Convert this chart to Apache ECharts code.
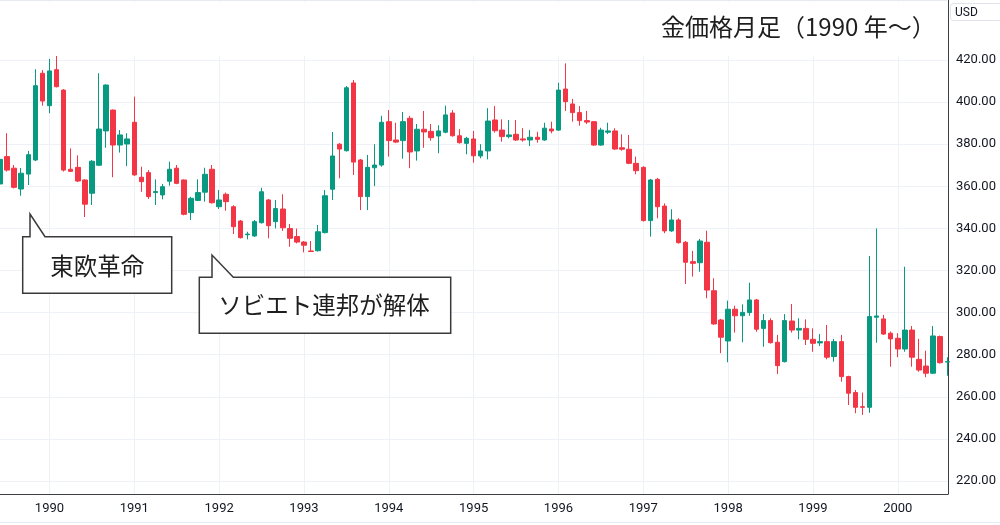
<!DOCTYPE html>
<html>
<head>
<meta charset="utf-8">
<script src="https://cdn.jsdelivr.net/npm/echarts@6/dist/echarts.min.js"></script>
<style>
html,body{margin:0;padding:0;background:#fff;}
#chart{width:1000px;height:525px;}
</style>
</head>
<body>
<div id="chart"></div>
<script>
// Monthly candles, Jun 1989 .. Aug 2000
const months = (function () {
  const out = [];
  let y = 1989, m = 6;
  for (let k = 0; k < 135; k++) {
    out.push(y + '-' + (m < 10 ? '0' + m : m));
    m++; if (m > 12) { m = 1; y++; }
  }
  return out;
})();

const openVals = [
361.1,374.1,368.6,358.7,365.8,372.5,413.7,398.3,415.4,405.7,
368.1,369.0,363.0,356.7,370.0,386.3,396.2,379.6,380.1,390.4,
364.3,366.5,357.0,355.9,362.4,368.6,363.0,347.5,353.3,357.2,
368.1,350.3,356.2,350.3,343.5,337.0,336.4,342.7,353.5,343.2,
349.2,339.9,336.1,333.5,329.3,329.4,338.0,358.6,380.0,376.9,
409.1,372.5,355.1,368.8,370.1,390.7,382.0,381.7,392.3,376.8,
387.1,386.1,383.9,385.7,394.8,384.0,380.4,382.5,374.4,376.8,
391.5,386.7,383.6,384.7,382.5,382.0,383.3,382.0,387.2,386.7,
406.2,399.1,395.0,391.2,390.7,379.6,385.7,386.3,378.3,377.6,
370.9,369.0,343.7,363.3,350.6,338.8,344.0,333.4,324.2,323.7,
333.4,310.4,296.5,286.5,301.6,298.5,300.0,306.0,292.5,296.2,
285.9,276.7,296.0,291.7,292.5,287.3,285.6,286.2,279.1,286.2,
269.6,262.0,255.3,255.0,297.8,297.0,290.2,287.8,282.7,291.7,
277.8,274.6,271.2,288.6,276.5];

const closeVals = [
372.8,367.7,359.5,366.2,375.0,407.8,400.5,414.8,407.3,367.7,
367.1,362.5,351.5,371.9,387.2,408.1,379.6,384.4,382.5,365.4,
362.2,355.1,357.5,359.8,368.1,361.4,346.7,354.3,357.0,365.7,
352.2,353.5,352.7,340.8,335.6,337.3,343.2,357.4,341.3,349.4,
340.3,335.3,333.5,332.0,329.0,338.4,355.5,374.4,377.7,406.8,
371.5,355.1,369.0,370.1,390.4,381.7,381.0,390.7,376.3,387.1,
385.8,383.1,386.3,393.9,384.0,380.7,382.8,374.5,376.8,391.0,
386.4,383.6,384.4,382.0,382.0,383.3,382.3,387.6,386.3,405.7,
400.2,395.0,391.2,390.5,379.6,386.7,386.3,377.7,377.6,370.9,
367.4,343.7,363.0,350.3,338.8,344.0,333.2,323.9,323.4,334.0,
310.7,294.6,288.3,301.6,298.5,300.1,306.0,292.1,296.2,285.7,
274.8,296.2,291.7,292.5,287.3,285.4,286.2,278.8,286.2,269.6,
261.7,255.0,255.0,298.1,298.4,289.8,287.5,282.7,291.7,278.8,
272.7,271.2,288.9,276.2,276.7];

const lowVals = [
359.0,367.0,359.0,355.5,360.6,372.0,398.3,394.7,407.0,367.0,
366.8,362.0,345.4,351.1,369.6,378.3,364.3,376.0,369.6,365.0,
357.4,354.0,351.1,353.8,360.3,361.0,346.2,344.0,353.0,352.7,
351.8,349.2,348.4,337.3,335.2,334.8,336.0,342.3,335.3,340.0,
338.8,331.3,332.9,328.6,328.8,329.0,337.6,353.5,363.8,376.5,
365.4,348.7,348.7,360.1,369.3,374.1,380.5,373.1,368.6,372.2,
378.3,381.7,375.7,385.2,383.6,380.3,375.2,371.2,373.3,372.8,
385.5,381.2,382.8,381.5,381.2,379.1,380.7,381.6,385.2,386.3,
395.8,390.7,388.8,389.6,379.2,379.2,384.8,377.3,376.9,370.5,
365.7,343.3,336.1,344.8,337.7,338.4,332.8,313.6,317.1,319.4,
306.8,294.2,280.7,276.4,290.5,285.9,298.5,290.9,283.8,285.3,
270.8,276.3,290.5,287.3,284.6,281.4,284.1,277.8,276.7,267.2,
256.1,252.2,251.4,252.4,285.7,289.4,274.3,278.8,281.4,274.3,
271.9,269.3,270.8,275.8,270.0];

const highVals = [
374.0,385.2,370.1,368.7,376.8,415.6,415.2,420.5,421.9,406.2,
378.0,374.7,363.3,372.5,413.7,408.5,396.5,386.7,385.2,402.6,
369.3,367.7,363.3,361.1,371.7,370.1,363.3,355.0,363.3,368.8,
370.1,358.2,357.0,351.0,344.0,338.4,344.0,359.3,354.0,353.5,
356.2,342.1,339.9,334.0,334.0,341.6,358.2,385.8,380.5,407.6,
410.5,373.0,374.9,380.0,393.5,396.2,390.2,395.3,393.5,389.6,
395.8,389.6,389.0,398.3,396.2,387.1,383.5,386.3,380.0,397.1,
398.1,391.8,391.5,391.5,387.6,386.7,385.9,390.2,390.7,409.2,
418.4,401.5,398.1,395.8,391.0,387.8,390.2,387.6,384.7,384.4,
374.1,369.5,363.5,364.0,351.9,349.1,344.8,334.0,329.3,335.0,
338.9,316.3,297.0,305.7,303.3,303.9,314.2,306.5,299.3,297.3,
289.4,299.3,304.1,297.3,296.8,292.5,289.8,294.1,287.5,289.4,
270.0,263.2,262.0,326.9,340.0,298.9,291.0,290.2,321.8,293.6,
287.5,281.9,293.6,289.1,278.8];

const yearLabels = ['1990','1991','1992','1993','1994','1995','1996','1997','1998','1999','2000'];
const priceTicks = [220,240,260,280,300,320,340,360,380,400,420];
const titleText = '金価格月足（1990 年〜）';
const notes = ['東欧革命', 'ソビエト連邦が解体'];

const yearTickPos = yearLabels.map(y => months.indexOf(y + '-01'));
const candles = months.map((m, i) => [i, openVals[i], closeVals[i], lowVals[i], highVals[i]]);

const UP = '#089981', DOWN = '#f23645';
const chart = echarts.init(document.getElementById('chart'), null, { renderer: 'canvas' });

function callout(points, text, tx, ty) {
  return [
    { type: 'polygon', z: 20, shape: { points: points },
      style: { fill: '#ffffff', stroke: '#3a3a3a', lineWidth: 1.5 } },
    { type: 'text', z: 21, x: tx, y: ty,
      style: { text: text, fill: '#1e1e1e', font: '23.5px "Noto Sans CJK JP"',
               align: 'center', verticalAlign: 'middle', textAlign: 'center', textVerticalAlign: 'middle' } }
  ];
}

const option = {
  animation: false,
  backgroundColor: '#ffffff',
  grid: { left: 0, right: 52, top: 0, bottom: 31, containLabel: false },
  xAxis: {
    type: 'value',
    min: 0,
    max: 134.1,
    axisLine: { show: true, onZero: false, lineStyle: { color: '#3c3f48', width: 1 } },
    axisTick: { show: false, customValues: yearTickPos },
    axisLabel: {
      customValues: yearTickPos,
      formatter: function (v) { const k = yearTickPos.indexOf(Math.round(v)); return k >= 0 ? yearLabels[k] : ''; },
      color: '#131722', fontSize: 13, fontFamily: 'Roboto', margin: 8
    },
    splitLine: { show: true, lineStyle: { color: '#eef1f5', width: 1 } }
  },
  yAxis: {
    type: 'value',
    position: 'right',
    min: 213.82,
    max: 448.5,
    axisLine: { show: true, onZero: false, lineStyle: { color: '#3c3f48', width: 1 } },
    axisTick: { show: false, customValues: priceTicks },
    axisLabel: {
      customValues: priceTicks,
      formatter: function (v) { return v.toFixed(2); },
      color: '#131722', fontSize: 13, fontFamily: 'Roboto', margin: 8, align: 'left'
    },
    splitLine: { show: true, lineStyle: { color: '#eef1f5', width: 1 } }
  },
  series: [{
    type: 'candlestick',
    data: candles,
    encode: { x: 0, y: [1, 2, 3, 4] },
    barWidth: 5,
    itemStyle: { color: UP, color0: DOWN, borderColor: UP, borderColor0: DOWN, borderWidth: 1 },
    z: 5
  }],
  graphic: [
    { type: 'rect', z: 1, shape: { x: 0, y: 2, width: 947, height: 54 }, style: { fill: '#ffffff' }, silent: true },
    { type: 'line', z: 1, shape: { x1: 0, y1: 0.5, x2: 947, y2: 0.5 }, style: { stroke: '#e6e9ef', lineWidth: 1 } },
    { type: 'line', z: 1, shape: { x1: 0, y1: 522.5, x2: 1000, y2: 522.5 }, style: { stroke: '#e6e9ef', lineWidth: 1 } },
    { type: 'rect', z: 10, shape: { x: 950.5, y: 3.5, width: 52, height: 17, r: 3 }, style: { fill: '#ffffff', stroke: '#e0e3eb', lineWidth: 1 } },
    { type: 'text', z: 11, x: 955, y: 12.5,
      style: { text: 'USD', fill: '#131722', font: '12px Roboto', align: 'left', verticalAlign: 'middle', textAlign: 'left', textVerticalAlign: 'middle' } },
    { type: 'text', z: 11, x: 661, y: 27,
      style: { text: titleText, fill: '#1e1e1e', font: '24px "Noto Sans CJK JP"', align: 'left', verticalAlign: 'middle', textAlign: 'left', textVerticalAlign: 'middle' } }
  ].concat(
    callout([[22.7,236.7],[30,236.7],[30,214],[45,236.7],[171.7,236.7],[171.7,293.3],[22.7,293.3]], notes[0], 97.2, 266),
    callout([[199.3,277.3],[212,277.3],[212,255],[233.3,277.3],[450.7,277.3],[450.7,333.3],[199.3,333.3]], notes[1], 324, 305)
  )
};
chart.setOption(option);
</script>
</body>
</html>
